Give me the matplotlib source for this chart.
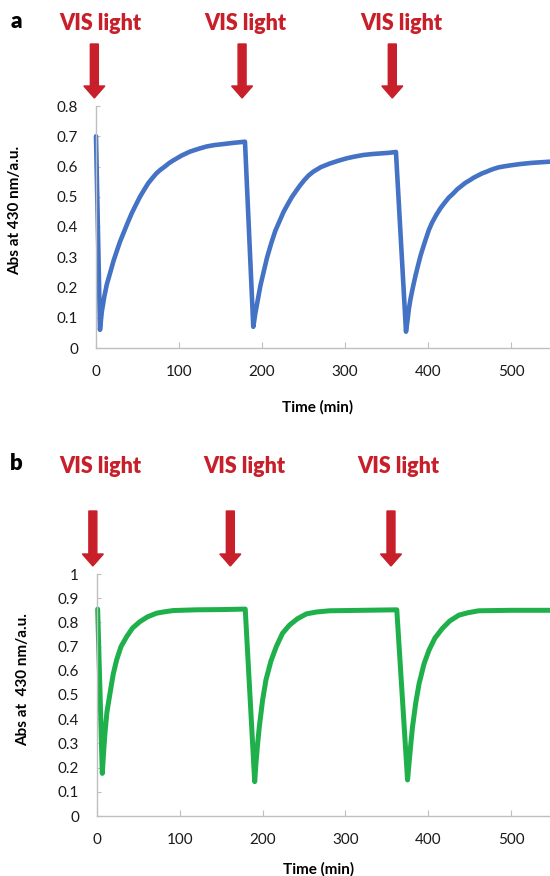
import matplotlib
matplotlib.use("Agg")
import matplotlib.pyplot as plt
import matplotlib.transforms as mtransforms
from matplotlib.patches import FancyArrow

plt.rcParams['font.family'] = ['Lato', 'DejaVu Sans']

# panel a: absorbance (blue)
time_a = [0, 4.8, 7, 10, 13, 17, 21, 25, 29, 33, 38, 43, 48, 53, 58, 63, 68,
          73, 78, 83, 88, 93, 103, 113, 123, 133, 143, 153, 165, 179.5,
          189.5, 192, 195, 198, 201.6, 206, 211, 216, 221.7, 226, 231, 236,
          241.8, 246, 251, 256, 261.8, 271, 281.9, 292, 302, 312, 322, 332,
          342, 352, 361.4,
          373.5, 375.5, 377, 379, 382, 385, 388, 391, 394.4, 397, 401, 405,
          410, 415, 420, 425, 430.5, 435, 440, 445, 450.6, 455, 460, 465,
          470.7, 475, 480, 485, 490.7, 500, 510.8, 525, 547]
abs_a = [0.70, 0.06, 0.12, 0.17, 0.21, 0.248, 0.287, 0.32, 0.352, 0.379,
         0.413, 0.445, 0.473, 0.50, 0.523, 0.545, 0.562, 0.578, 0.59, 0.60,
         0.611, 0.62, 0.636, 0.649, 0.658, 0.666, 0.671, 0.674, 0.678, 0.682,
         0.07, 0.115, 0.16, 0.205, 0.247, 0.298, 0.345, 0.387, 0.423, 0.45,
         0.475, 0.499, 0.522, 0.538, 0.555, 0.57, 0.583, 0.598, 0.61, 0.619,
         0.627, 0.633, 0.638, 0.641, 0.643, 0.645, 0.648,
         0.054, 0.095, 0.13, 0.163, 0.203, 0.24, 0.273, 0.305, 0.335, 0.357,
         0.39, 0.415, 0.44, 0.462, 0.48, 0.497, 0.511, 0.524, 0.535, 0.546,
         0.555, 0.563, 0.57, 0.577, 0.583, 0.588, 0.593, 0.597, 0.60, 0.604,
         0.608, 0.612, 0.616]

# panel b: absorbance (green)
time_b = [0.8, 6.4, 8, 9.6, 12, 15.7, 19.5, 23.7, 29, 35.8, 43, 51.8, 61,
          71.9, 80, 92, 120, 150, 179,
          190.4, 192, 194, 196, 200, 204, 210, 216.5, 224, 232.5, 242, 252.7,
          265, 280.7, 320, 362,
          375, 377, 379, 381, 385, 389, 395, 401, 408, 417, 426, 437, 448,
          461, 500, 547]
abs_b = [0.855, 0.176, 0.265, 0.342, 0.43, 0.507, 0.585, 0.645, 0.70, 0.741,
         0.777, 0.803, 0.823, 0.838, 0.843, 0.849, 0.852, 0.853, 0.855,
         0.142, 0.22, 0.30, 0.369, 0.48, 0.562, 0.64, 0.70, 0.755, 0.789,
         0.815, 0.835, 0.843, 0.848, 0.85, 0.852,
         0.149, 0.225, 0.30, 0.369, 0.47, 0.548, 0.63, 0.686, 0.735, 0.775,
         0.806, 0.83, 0.84, 0.848, 0.85, 0.85]

xticks = [0, 100, 200, 300, 400, 500]
yticks_a = [0, 0.1, 0.2, 0.3, 0.4, 0.5, 0.6, 0.7, 0.8]
ytick_labels_a = ['0', '0.1', '0.2', '0.3', '0.4', '0.5', '0.6', '0.7', '0.8']
yticks_b = [0, 0.1, 0.2, 0.3, 0.4, 0.5, 0.6, 0.7, 0.8, 0.9, 1.0]
ytick_labels_b = ['0', '0.1', '0.2', '0.3', '0.4', '0.5', '0.6', '0.7', '0.8', '0.9', '1']

# light-on markers (time positions of arrows / labels)
arrows_a = [-2, 176, 357]
labels_a = [4.8, 179.5, 367.5]
arrows_b = [-5, 161, 355]
labels_b = [3.6, 178, 364]

RED = '#C8202B'
GRAY = '#BFBFBF'
W, H = 550, 876

fig = plt.figure(figsize=(5.5, 8.76), dpi=100)
ax_a = fig.add_axes([96 / W, 1 - 348 / H, 454 / W, 242 / H])
ax_b = fig.add_axes([97 / W, 1 - 816 / H, 453 / W, 242 / H])


def style(ax, yticks, ylabels, ymax):
    ax.set_xlim(0, 547)
    ax.set_ylim(0, ymax)
    ax.set_xticks(xticks)
    ax.set_yticks(yticks)
    ax.set_yticklabels(ylabels)
    for s in ['top', 'right']:
        ax.spines[s].set_visible(False)
    for s in ['left', 'bottom']:
        ax.spines[s].set_color(GRAY)
        ax.spines[s].set_linewidth(1.0)
    ax.tick_params(axis='x', direction='in', length=4, color=GRAY, pad=12,
                   labelsize=11, labelcolor='#1a1a1a')
    ax.tick_params(axis='y', direction='in', length=3, color=GRAY, pad=13,
                   labelsize=11, labelcolor='#1a1a1a')


ax_a.plot(time_a, abs_a, color='#4472C4', lw=3.3, solid_joinstyle='round',
          solid_capstyle='round', clip_on=False)
style(ax_a, yticks_a, ytick_labels_a, 0.8)
ax_a.set_ylabel('Abs at 430 nm/a.u.', fontsize=11, fontweight='bold')
ax_a.yaxis.set_label_coords(-0.163, 0.57)
ax_a.set_xlabel('Time (min)', fontsize=11, fontweight='bold')
ax_a.xaxis.set_label_coords(0.489, -0.215)

ax_b.plot(time_b, abs_b, color='#1FB04B', lw=3.6, solid_joinstyle='round',
          solid_capstyle='round', clip_on=False)
style(ax_b, yticks_b, ytick_labels_b, 1.0)
ax_b.set_ylabel('Abs at  430 nm/a.u.', fontsize=11, fontweight='bold')
ax_b.yaxis.set_label_coords(-0.148, 0.562)
ax_b.set_xlabel('Time (min)', fontsize=11, fontweight='bold')
ax_b.xaxis.set_label_coords(0.489, -0.19)

# red "VIS light" arrows, x in data units, y in figure fraction
tr_a = mtransforms.blended_transform_factory(ax_a.transData, fig.transFigure)
tr_b = mtransforms.blended_transform_factory(ax_b.transData, fig.transFigure)
px_a = 547 / 454
px_b = 547 / 453

for xa in arrows_a:
    fig.add_artist(FancyArrow(xa, 1 - 44 / H, 0, -(98 - 44) / H, width=8 * px_a,
                              head_width=21 * px_a, head_length=12 / H,
                              length_includes_head=True, transform=tr_a,
                              color=RED, clip_on=False))
for xl in labels_a:
    fig.text(xl, 1 - 23 / H, 'VIS light', transform=tr_a, ha='center',
             va='center', color=RED, fontsize=15.5, fontweight='heavy')

for xa in arrows_b:
    fig.add_artist(FancyArrow(xa, 1 - 511 / H, 0, -(566 - 511) / H, width=8 * px_b,
                              head_width=21 * px_b, head_length=12 / H,
                              length_includes_head=True, transform=tr_b,
                              color=RED, clip_on=False))
for xl in labels_b:
    fig.text(xl, 1 - 466 / H, 'VIS light', transform=tr_b, ha='center',
             va='center', color=RED, fontsize=15.5, fontweight='heavy')

fig.text(16 / W, 1 - 21 / H, 'a', ha='center', va='center', fontsize=16,
         fontweight='heavy', color='black')
fig.text(16 / W, 1 - 463 / H, 'b', ha='center', va='center', fontsize=16,
         fontweight='heavy', color='black')

fig.savefig('out.png', dpi=100)
